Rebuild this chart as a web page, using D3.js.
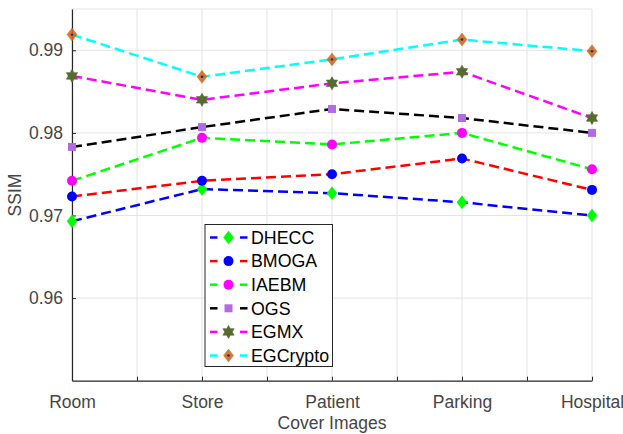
<!DOCTYPE html>
<html>
<head>
<meta charset="utf-8">
<script src="https://cdn.jsdelivr.net/npm/d3@7"></script>
<style>
  html, body { margin: 0; padding: 0; background: #fff; }
  svg { display: block; font-family: "Liberation Sans", Arial, sans-serif; }
</style>
</head>
<body>
<svg id="chart" width="623" height="434"></svg>
<script>
const categories = ["Room", "Store", "Patient", "Parking", "Hospital"];
const seriesNames = ["DHECC", "BMOGA", "IAEBM", "OGS", "EGMX", "EGCrypto"];
const dhecc    = [0.9693, 0.9732, 0.9727, 0.9716, 0.9700];
const bmoga    = [0.9723, 0.9742, 0.9750, 0.9769, 0.9731];
const iaebm    = [0.9742, 0.9794, 0.9786, 0.9800, 0.9756];
const ogs      = [0.9783, 0.9807, 0.9829, 0.9818, 0.9800];
const egmx     = [0.9869, 0.9840, 0.9860, 0.9874, 0.9818];
const egcrypto = [0.9919, 0.9868, 0.9889, 0.9913, 0.9899];
const yTicks = [0.96, 0.97, 0.98, 0.99];
const xLabel = "Cover Images";
const yLabel = "SSIM";

const seriesValues = [dhecc, bmoga, iaebm, ogs, egmx, egcrypto];
const lineColors = ["#0000ff", "#ff0000", "#00ff00", "#000000", "#ff00ff", "#00ffff"];
const markerColors = ["#00ff00", "#0000ff", "#ff00ff", "#b36be3", "#556b2f", "#d2691e"];
const markerTypes = ["diamond", "circle", "circle", "square", "star", "diamond2"];

const svg = d3.select("#chart");
const L = 72, R = 592, T = 9, B = 380.7;
const x = d3.scaleLinear().domain([1, 5]).range([L, R]);
const y = d3.scaleLinear().domain([0.95, 0.995]).range([B, T]);

// grid
const xGrid = d3.range(1, 5.01, 0.5);
svg.append("g").selectAll("line").data(xGrid).join("line")
  .attr("x1", d => x(d)).attr("x2", d => x(d)).attr("y1", T).attr("y2", B)
  .attr("stroke", "#e3e3e3").attr("stroke-width", 1);
svg.append("g").selectAll("line").data(yTicks).join("line")
  .attr("x1", L).attr("x2", R).attr("y1", d => y(d)).attr("y2", d => y(d))
  .attr("stroke", "#e3e3e3").attr("stroke-width", 1);
svg.append("line").attr("x1", L).attr("x2", R).attr("y1", T).attr("y2", T)
  .attr("stroke", "#e3e3e3");

// axes
const tickColor = "#454545";
const xAxis = d3.axisBottom(x).tickValues(xGrid)
  .tickFormat(d => Number.isInteger(d) ? categories[d - 1] : "")
  .tickSizeInner(-4).tickSizeOuter(0).tickPadding(15);
const gx = svg.append("g").attr("transform", `translate(0,${B})`).call(xAxis);
gx.select(".domain").attr("stroke", "#262626").attr("stroke-width", 1.2);
gx.selectAll(".tick line").attr("stroke", "#262626");
gx.selectAll("text").attr("font-size", 17.5).attr("fill", tickColor)
  .attr("font-family", "Liberation Sans, Arial, sans-serif");

const yAxis = d3.axisLeft(y).tickValues(yTicks).tickFormat(d3.format(".2f"))
  .tickSizeInner(-4).tickSizeOuter(0).tickPadding(9);
const gy = svg.append("g").attr("transform", `translate(${L},0)`).call(yAxis);
gy.select(".domain").attr("stroke", "#262626").attr("stroke-width", 1.2);
gy.selectAll(".tick line").attr("stroke", "#262626");
gy.selectAll("text").attr("font-size", 17.5).attr("fill", tickColor)
  .attr("font-family", "Liberation Sans, Arial, sans-serif");

svg.append("text").attr("x", 332).attr("y", 429).attr("text-anchor", "middle")
  .attr("font-size", 17.5).attr("fill", tickColor).text(xLabel);
svg.append("text").attr("transform", "translate(21,195) rotate(-90)")
  .attr("text-anchor", "middle").attr("font-size", 17.5).attr("fill", tickColor).text(yLabel);

// markers
function drawMarker(g, type, cx, cy, color) {
  if (type === "diamond") {
    g.append("path").attr("d", `M${cx},${cy-6.5}L${cx+5},${cy}L${cx},${cy+6.5}L${cx-5},${cy}Z`)
      .attr("fill", color).attr("stroke", color).attr("stroke-width", 0.5);
  } else if (type === "diamond2") {
    g.append("path").attr("d", `M${cx},${cy-6.5}L${cx+5},${cy}L${cx},${cy+6.5}L${cx-5},${cy}Z`)
      .attr("fill", color).attr("stroke", color).attr("stroke-width", 0.5).attr("opacity", 0.9);
    g.append("circle").attr("cx", cx).attr("cy", cy).attr("r", 1.2).attr("fill", "#1a237e");
  } else if (type === "circle") {
    g.append("circle").attr("cx", cx).attr("cy", cy).attr("r", 5).attr("fill", color);
  } else if (type === "square") {
    g.append("rect").attr("x", cx - 4).attr("y", cy - 4).attr("width", 8).attr("height", 8)
      .attr("fill", color);
  } else if (type === "star") {
    const r = 6.5, pts = [];
    for (let k = 0; k < 12; k++) {
      const a = -Math.PI / 2 + k * Math.PI / 6;
      const rr = k % 2 === 0 ? r : r * 0.58;
      pts.push([cx + rr * Math.cos(a), cy + rr * Math.sin(a)]);
    }
    g.append("path").attr("d", "M" + pts.map(p => p.join(",")).join("L") + "Z")
      .attr("fill", color).attr("stroke", color).attr("stroke-width", 0.6);
  }
}

const line = d3.line().x((d, i) => x(i + 1)).y(d => y(d));
seriesValues.forEach((vals, s) => {
  svg.append("path").datum(vals).attr("d", line).attr("fill", "none")
    .attr("stroke", lineColors[s]).attr("stroke-width", 2.5).attr("stroke-dasharray", "10,5");
});
seriesValues.forEach((vals, s) => {
  const g = svg.append("g");
  vals.forEach((v, i) => drawMarker(g, markerTypes[s], x(i + 1), y(v), markerColors[s]));
});

// legend
const lg = svg.append("g");
lg.append("rect").attr("x", 205).attr("y", 224.5).attr("width", 127.5).attr("height", 142)
  .attr("fill", "#fff").attr("stroke", "#262626").attr("stroke-width", 1);
seriesNames.forEach((name, s) => {
  const cy = 237.5 + s * 23.6;
  lg.append("line").attr("x1", 210).attr("x2", 217.5).attr("y1", cy).attr("y2", cy)
    .attr("stroke", lineColors[s]).attr("stroke-width", 2.5);
  lg.append("line").attr("x1", 240).attr("x2", 247.5).attr("y1", cy).attr("y2", cy)
    .attr("stroke", lineColors[s]).attr("stroke-width", 2.5);
  drawMarker(lg, markerTypes[s], 228.5, cy, markerColors[s]);
  lg.append("text").attr("x", 251).attr("y", cy + 6.3).attr("font-size", 17.8)
    .attr("fill", "#000").text(name);
});
</script>
</body>
</html>
